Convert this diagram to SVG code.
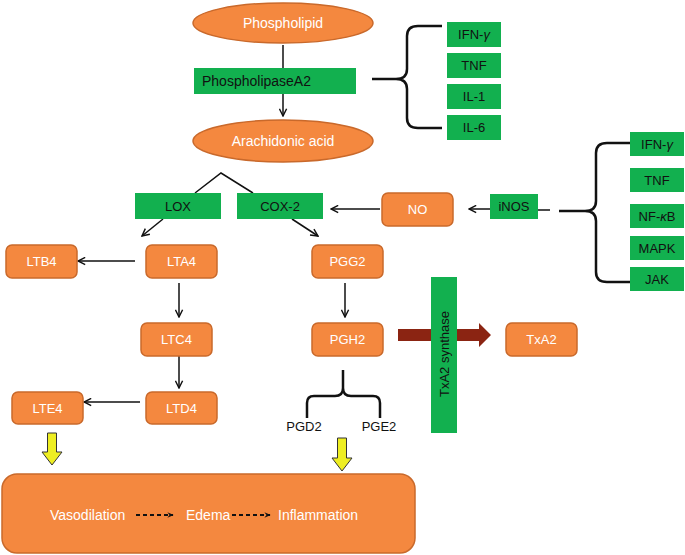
<svg xmlns="http://www.w3.org/2000/svg" width="685" height="555" viewBox="0 0 685 555">
<style>
text{font-family:"Liberation Sans",Arial,sans-serif;font-size:13px}
.w{fill:#fff}
.b{fill:#111}
.c{text-anchor:middle}
.org{fill:#F4883F;stroke:#C9692B;stroke-width:1.5}
.grn{fill:#12B04F}
.ln{fill:none;stroke:#111;stroke-width:1.5}
.ar{fill:none;stroke:#111;stroke-width:1.5;marker-end:url(#ah)}
.br{fill:none;stroke:#111;stroke-width:2.5}
.yel{fill:#EEEE22;stroke:#333;stroke-width:1}
.dash{fill:none;stroke:#111;stroke-width:1.8;stroke-dasharray:4,3;marker-end:url(#ahs)}
</style>
<defs>
<marker id="ah" markerUnits="userSpaceOnUse" viewBox="0 0 10 10" refX="9" refY="5" markerWidth="9" markerHeight="9" orient="auto">
<path d="M1,1 L9,5 L1,9" fill="none" stroke="#111" stroke-width="1.6"/>
</marker>
<marker id="ahs" markerUnits="userSpaceOnUse" viewBox="0 0 10 10" refX="8" refY="5" markerWidth="7" markerHeight="7" orient="auto">
<path d="M0,1 L9,5 L0,9 L3,5 Z" fill="#111"/>
</marker>
</defs>

<g id="outcome"><rect class="org" x="2" y="474" width="413" height="79" rx="15"/>
<text class="w" x="50" y="520" style="font-size:14px">Vasodilation</text>
<text class="w" x="186" y="520" style="font-size:14px">Edema</text>
<text class="w" x="278" y="520" style="font-size:14px">Inflammation</text></g>

<g id="connectors">
<line class="ln" x1="283" y1="45" x2="283" y2="68"/>
<line class="ar" x1="283" y1="94" x2="283" y2="116"/>
<path class="br" d="M372,79 L396,79 Q407,79 407,69 L407,36 Q407,26 418,26 L442,26 M396,79 Q407,79 407,89 L407,118 Q407,128 418,128 L442,128"/>
<line class="ln" x1="538" y1="210" x2="550" y2="210"/>
<path class="br" d="M559,211 L585,211 Q596,211 596,201 L596,153 Q596,143 607,143 L630,143 M585,211 Q596,211 596,221 L596,272 Q596,282 607,282 L630,282"/>
<line class="ar" x1="490" y1="209" x2="469" y2="209"/>
<line class="ar" x1="380" y1="209" x2="331" y2="209"/>
<polyline class="ln" points="195,193 221,173 253,193"/>
<line class="ar" x1="163" y1="219" x2="142" y2="236"/>
<line class="ar" x1="292" y1="219" x2="318" y2="236"/>
<line class="ar" x1="135" y1="261" x2="78" y2="261"/>
<line class="ar" x1="179" y1="283" x2="179" y2="317"/>
<line class="ar" x1="345" y1="283" x2="345" y2="317"/>
<line class="ar" x1="179" y1="356" x2="179" y2="388"/>
<line class="ar" x1="140" y1="402" x2="84" y2="402"/>
<path class="br" d="M343,370 L343,388 Q343,396 335,396 L314,396 Q307,396 307,403 L307,418 M343,388 Q343,396 351,396 L373,396 Q380,396 380,403 L380,418"/>
<polygon points="398,329 479,329 479,323 491,335 479,347 479,341 398,341" fill="#8B2412"/>
<polygon class="yel" points="47.5,433 56.5,433 56.5,452 62,452 52,465 42,452 47.5,452"/>
<polygon class="yel" points="337.5,438 346.5,438 346.5,458 352,458 342,471 332,458 337.5,458"/>
<line class="dash" x1="136" y1="515" x2="173" y2="515"/>
<line class="dash" x1="232" y1="515" x2="270" y2="515"/>
</g>

<g id="phospholipid"><ellipse class="org" cx="283" cy="23" rx="90" ry="20"/><text class="w c" x="283" y="28" style="font-size:14px">Phospholipid</text></g>
<g id="pla2"><rect class="grn" x="194" y="68" width="162" height="26"/><text class="b" x="202" y="86" style="font-size:14px">PhospholipaseA2</text></g>
<g id="arachidonic"><ellipse class="org" cx="283" cy="141" rx="90" ry="21"/><text class="w c" x="283" y="146" style="font-size:14px">Arachidonic acid</text></g>

<g id="ifng1"><rect class="grn" x="447" y="22" width="54" height="25"/><text class="b c" x="474" y="39">IFN-<tspan font-style="italic">γ</tspan></text></g>
<g id="tnf1"><rect class="grn" x="447" y="53" width="54" height="25"/><text class="b c" x="474" y="70">TNF</text></g>
<g id="il1"><rect class="grn" x="447" y="84" width="54" height="25"/><text class="b c" x="474" y="101">IL-1</text></g>
<g id="il6"><rect class="grn" x="447" y="115" width="54" height="25"/><text class="b c" x="474" y="132">IL-6</text></g>

<g id="ifng2"><rect class="grn" x="630" y="132" width="54" height="24"/><text class="b c" x="657" y="149">IFN-<tspan font-style="italic">γ</tspan></text></g>
<g id="tnf2"><rect class="grn" x="630" y="168" width="54" height="24"/><text class="b c" x="657" y="185">TNF</text></g>
<g id="nfkb"><rect class="grn" x="630" y="204" width="54" height="24"/><text class="b c" x="657" y="221">NF-<tspan font-style="italic">κ</tspan>B</text></g>
<g id="mapk"><rect class="grn" x="630" y="236" width="54" height="24"/><text class="b c" x="657" y="253">MAPK</text></g>
<g id="jak"><rect class="grn" x="630" y="267" width="54" height="24"/><text class="b c" x="657" y="284">JAK</text></g>

<g id="inos"><rect class="grn" x="490" y="194" width="48" height="25"/><text class="b c" x="514" y="211">iNOS</text></g>
<g id="no"><rect class="org" x="382" y="193" width="71" height="33" rx="6"/><text class="w c" x="417.5" y="214">NO</text></g>

<g id="lox"><rect class="grn" x="135" y="193" width="86" height="26"/><text class="b c" x="178" y="211">LOX</text></g>
<g id="cox2"><rect class="grn" x="237" y="193" width="86" height="26"/><text class="b c" x="280" y="211">COX-2</text></g>

<g id="ltb4"><rect class="org" x="6" y="245" width="71" height="33" rx="6"/><text class="w c" x="41.5" y="266">LTB4</text></g>
<g id="lta4"><rect class="org" x="146" y="245" width="71" height="33" rx="6"/><text class="w c" x="181.5" y="266">LTA4</text></g>
<g id="pgg2"><rect class="org" x="312" y="245" width="71" height="33" rx="6"/><text class="w c" x="347.5" y="266">PGG2</text></g>
<g id="ltc4"><rect class="org" x="141" y="323" width="71" height="33" rx="6"/><text class="w c" x="176.5" y="344">LTC4</text></g>
<g id="pgh2"><rect class="org" x="312" y="323" width="71" height="33" rx="6"/><text class="w c" x="347.5" y="344">PGH2</text></g>
<g id="ltd4"><rect class="org" x="146" y="392" width="71" height="32" rx="6"/><text class="w c" x="181.5" y="413">LTD4</text></g>
<g id="lte4"><rect class="org" x="12" y="392" width="71" height="32" rx="6"/><text class="w c" x="47.5" y="413">LTE4</text></g>
<g id="txa2"><rect class="org" x="506" y="323" width="71" height="33" rx="6"/><text class="w c" x="541.5" y="344">TxA2</text></g>

<g id="pgd2"><text class="b c" x="304" y="431">PGD2</text></g>
<g id="pge2"><text class="b c" x="379" y="431">PGE2</text></g>

<g id="txa2synthase"><rect class="grn" x="431" y="277" width="26" height="156"/><text class="b c" transform="translate(449,354) rotate(-90)">TxA2 synthase</text></g>
</svg>
